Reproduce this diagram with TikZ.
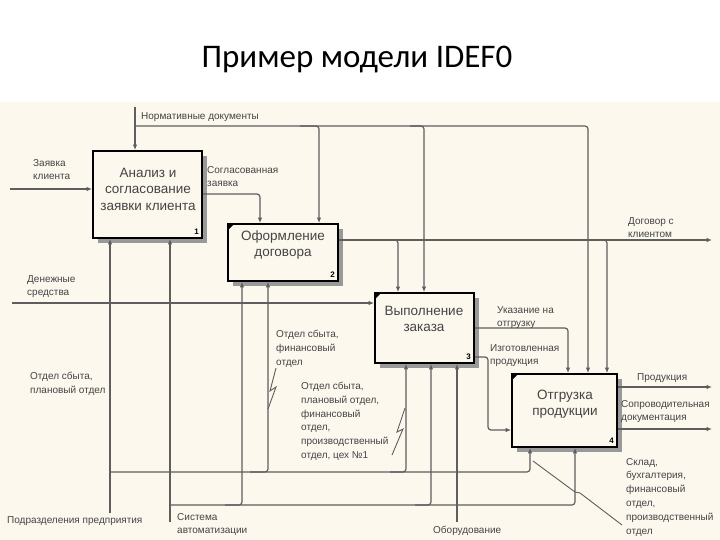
\documentclass[tikz,border=0pt]{standalone}
\usepackage{fontspec}
\setmainfont{Liberation Sans}
\newfontfamily\titlefont{Carlito}
\usetikzlibrary{arrows.meta,shadows}
\definecolor{bgbeige}{HTML}{FCF8EE}
\definecolor{linegray}{HTML}{5E5E5E}
\definecolor{txtgray}{HTML}{444444}
\tikzset{
  box/.style={draw=black, line width=1.8pt, fill=bgbeige, inner sep=0pt,
    drop shadow={shadow xshift=5pt, shadow yshift=-5pt, fill=black!40, opacity=1}},
  boxtxt/.style={font=\fontsize{13.5}{16.5}\selectfont, text=txtgray, align=center, inner sep=0pt},
  conn/.style={draw=linegray, line width=1.2pt, rounded corners=3pt},
  arr/.style={conn, -{Latex[length=5.5pt,width=4.5pt]}},
  lbl/.style={font=\fontsize{10}{13.8}\selectfont, text=txtgray, align=left, inner sep=0pt, anchor=north west},
  num/.style={font=\fontsize{8}{8}\selectfont\bfseries, inner sep=0pt, anchor=south east},
  squig/.style={draw=linegray, line width=0.9pt},
}
\begin{document}
\begin{tikzpicture}[x=1pt,y=-1pt]
\fill[white] (0,0) rectangle (720,540);
\useasboundingbox (0,0) rectangle (720,540);
\fill[bgbeige] (0,102) rectangle (720,540);

% title
\node[font=\titlefont\fontsize{33}{33}\selectfont, anchor=base, inner sep=0pt] (title) at (357,68) {Пример модели IDEF0};

% boxes
\node[box, minimum width=109pt, minimum height=87pt] (b1) at (147.5,194.5) {};
\node[box, minimum width=110pt, minimum height=57pt] (b2) at (283,252.5) {};
\node[box, minimum width=99pt, minimum height=70pt] (b3) at (424.5,328) {};
\node[box, minimum width=105pt, minimum height=73pt] (b4) at (564.5,410.5) {};

\node[boxtxt] (t1) at (148,189) {Анализ и\\согласование\\заявки клиента};
\node[boxtxt] (t2) at (283,245) {Оформление\\договора};
\node[boxtxt] (t3) at (424,319) {Выполнение\\заказа};
\node[boxtxt] (t4) at (565,404) {Отгрузка\\продукции};

\node[num] (n1) at (199,235) {1};
\node[num] (n2) at (335,278) {2};
\node[num] (n3) at (471,360) {3};
\node[num] (n4) at (614,444) {4};

\foreach \b in {b2,b3,b4}{
  \fill (\b.north west) ++(1.5,1.5) -- ++(5,0) -- ++(-5,5) -- cycle;
}

% controls: Нормативные документы
\draw[arr] (135,107) -- (135,0 |- b1.north);
\draw[arr] (135,126) -| (319,0 |- b2.north);
\draw[arr] (300,126) -| (424,0 |- b3.north);
\draw[arr] (410,126) -| (588,0 |- b4.north);

% input: Заявка клиента
\draw[arr] (10,189) -- (b1.west |- 0,189);
% Согласованная заявка
\draw[arr] (b1.east |- 0,194) -| (260,0 |- b2.north);
% Договор с клиентом
\draw[arr] (b2.east |- 0,240) -- (712,240);
\draw[arr] (380,240) -| (398,0 |- b3.north);
\draw[arr] (590,240) -| (607,0 |- b4.north);
% Денежные средства
\draw[arr] (12,303) -- (b3.west |- 0,303);
% Указание на отгрузку
\draw[arr] (b3.east |- 0,328) -| (568,0 |- b4.north);
% Изготовленная продукция
\draw[arr] (b3.east |- 0,357) -- (488,357) |- (b4.west |- 0,430);
% outputs of box 4
\draw[arr] (b4.east |- 0,387) -- (712,387);
\draw[arr] (b4.east |- 0,429) -- (712,429);

% mechanisms: Подразделения предприятия
\draw[arr] (110,513) -- (110,0 |- b1.south);
\draw[arr] (110,472) -| (268,0 |- b2.south);
\draw[arr] (250,472) -| (406,0 |- b3.south);
\draw[arr] (390,472) -| (530,0 |- b4.south);
% Система автоматизации
\draw[arr] (170,522) -- (170,0 |- b1.south);
\draw[arr] (170,505) -| (242,0 |- b2.south);
\draw[arr] (225,505) -| (431,0 |- b3.south);
\draw[arr] (415,505) -| (575,0 |- b4.south);
% Оборудование
\draw[arr] (457,522) -- (457,0 |- b3.south);

% squiggles
\draw[squig] (276,368) -- (270,391) -- (276,387) -- (268,409);
\draw[squig] (405,408) -- (397,432) -- (403,429) -- (392,455);
\draw[squig] (533,461) -- (575,492) -- (580,493) -- (622,525);

% labels
\node[lbl] (l1) at (141,112) {Нормативные документы};
\node[lbl] (l2) at (33,159) {Заявка\\клиента};
\node[lbl] (l3) at (207,166) {Согласованная\\заявка};
\node[lbl] (l4) at (628,217) {Договор с\\клиентом};
\node[lbl] (l5) at (27,275) {Денежные\\средства};
\node[lbl] (l6) at (276,330) {Отдел сбыта,\\финансовый\\отдел};
\node[lbl] (l7) at (30,372) {Отдел сбыта,\\плановый отдел};
\node[lbl] (l8) at (301,382) {Отдел сбыта,\\плановый отдел,\\финансовый\\отдел,\\производственный\\отдел, цех №1};
\node[lbl] (l9) at (497,306) {Указание на\\отгрузку};
\node[lbl] (l10) at (490,344) {Изготовленная\\продукция};
\node[lbl] (l11) at (637,373) {Продукция};
\node[lbl] (l12) at (621,400) {Сопроводительная\\документация};
\node[lbl] (l13) at (626,458) {Склад,\\бухгалтерия,\\финансовый\\отдел,\\производственный\\отдел};
\node[lbl] (l14) at (7,516) {Подразделения предприятия};
\node[lbl] (l15) at (177,513) {Система\\автоматизации};
\node[lbl] (l16) at (433,526) {Оборудование};
\end{tikzpicture}
\end{document}
